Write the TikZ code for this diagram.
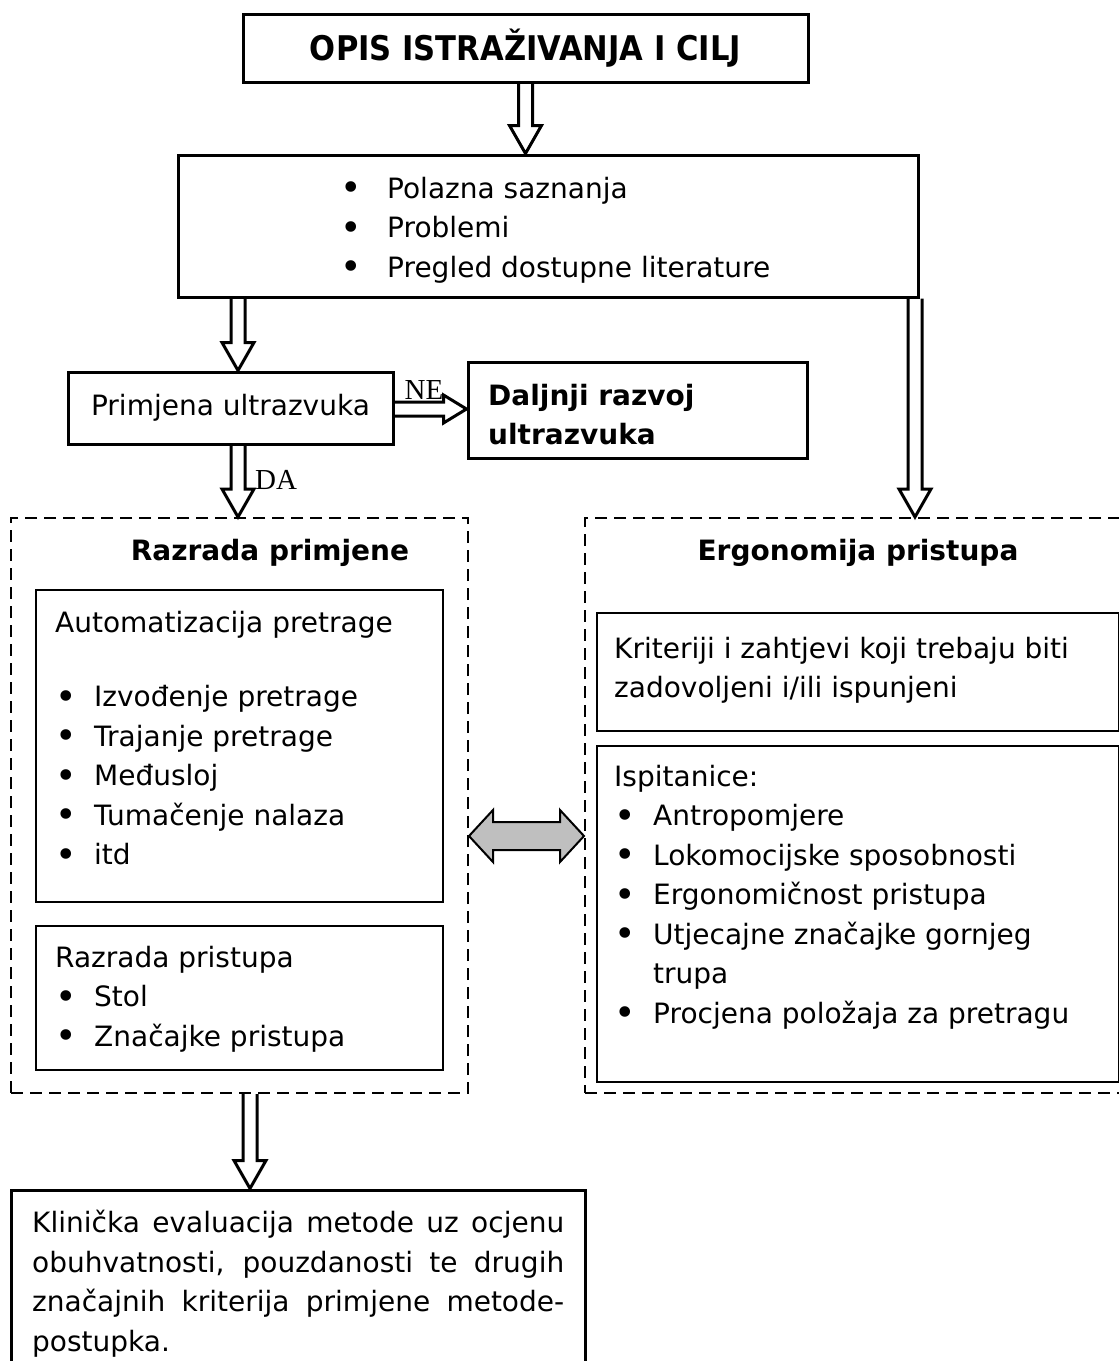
\documentclass[tikz,border=0pt]{standalone}
\usepackage{fontspec}
\setmainfont{DejaVu Sans}
\newfontfamily\timesfont{Liberation Serif}
\usetikzlibrary{calc}

\newcommand{\fs}{\fontsize{28}{39.5}\selectfont}
\newcommand{\bul}[2][39pt]{\makebox[#1][l]{\raisebox{-2.5pt}{\scalebox{1.3}{•}}}#2}
\newcommand{\hollowdown}[2]{%
  \draw[hollow] let \p1=(#1), \p2=(#2) in
    (\x1-7pt,\y1) -- (\x1-7pt,\y2+28pt) -- (\x1-16pt,\y2+28pt) -- (\x1,\y2)
    -- (\x1+16pt,\y2+28pt) -- (\x1+7pt,\y2+28pt) -- (\x1+7pt,\y1);}
\newcommand{\hollowright}[2]{%
  \draw[hollow] let \p1=(#1), \p2=(#2) in
    (\x1,\y1+7pt) -- (\x2-23pt,\y1+7pt) -- (\x2-23pt,\y1+14pt) -- (\x2,\y1)
    -- (\x2-23pt,\y1-14pt) -- (\x2-23pt,\y1-7pt) -- (\x1,\y1-7pt);}

\tikzset{
  thickbox/.style={draw, line width=3pt, inner sep=0pt},
  thinbox/.style={draw, line width=2pt, inner sep=0pt},
  dashbox/.style={draw, line width=2pt, dash pattern=on 12pt off 7pt, inner sep=0pt},
  txt/.style={inner sep=0pt, align=left, anchor=north west, font=\fs},
  hollow/.style={draw, line width=3pt, line join=miter},
  twoway/.style={draw, line width=2pt, fill=black!25, line join=miter},
  yesno/.style={inner sep=0pt, font=\timesfont\fontsize{29}{29}\selectfont},
}

\begin{document}
\begin{tikzpicture}[x=1pt, y=-1pt]
    \useasboundingbox (0,0) rectangle (1119,1361);
    \fill[white] (0,0) rectangle (1119,1361);
    \clip (0,0) rectangle (1119,1361);

    %top
    \node[thickbox, minimum width=565pt, minimum height=68pt,
          font=\fontsize{34}{40}\selectfont\bfseries] (opis) at (525.5,48)
        {\scalebox{0.9}[1]{OPIS ISTRAŽIVANJA I CILJ}};
    \node[thickbox, minimum width=740pt, minimum height=142pt] (uvod) at (548,226) {};
    \node[txt] (uvodtxt) at (340,177)
        {\bul[47pt]{Polazna saznanja}\\ \bul[47pt]{Problemi}\\ \bul[47pt]{Pregled dostupne literature}};

    %decision
    \node[thickbox, minimum width=325pt, minimum height=72pt, font=\fs] (primjena) at (230.5,408)
        {Primjena ultrazvuka};
    \node[thickbox, minimum width=339pt, minimum height=96pt] (daljnji) at (637.5,410) {};
    \node[txt, font=\fs\bfseries] (daljnjitxt) at (488,384) {Daljnji razvoj\\ultrazvuka};
    \node[yesno, anchor=base] (ne) at (424,399) {NE};
    \node[yesno, anchor=base west] (da) at (255,489) {DA};

    %left block
    \node[dashbox, minimum width=457pt, minimum height=575pt] (razrada) at (239.5,805.5) {};
    \node[inner sep=0pt, font=\fs\bfseries] (razradanaslov) at (270,553) {Razrada primjene};
    \node[thinbox, minimum width=407pt, minimum height=312pt] (auto) at (239.5,746) {};
    \node[txt] (autotxt) at (55,611)
        {Automatizacija pretrage\\[35pt] \bul{Izvođenje pretrage}\\ \bul{Trajanje pretrage}\\
         \bul{Međusloj}\\ \bul{Tumačenje nalaza}\\ \bul{itd}};
    \node[thinbox, minimum width=407pt, minimum height=144pt] (pristup) at (239.5,998) {};
    \node[txt] (pristuptxt) at (55,946)
        {Razrada pristupa\\ \bul{Stol}\\ \bul{Značajke pristupa}};

    %right block
    \node[dashbox, minimum width=550pt, minimum height=575pt] (ergo) at (860,805.5) {};
    \node[inner sep=0pt, font=\fs\bfseries] (ergonaslov) at (858,553) {Ergonomija pristupa};
    \node[thinbox, minimum width=522pt, minimum height=118pt] (krit) at (858,672) {};
    \node[txt] (krittxt) at (614,637)
        {Kriteriji i zahtjevi koji trebaju biti\\ zadovoljeni i/ili ispunjeni};
    \node[thinbox, minimum width=522pt, minimum height=336pt] (ispit) at (858,914) {};
    \node[txt] (ispittxt) at (614,765)
        {Ispitanice:\\ \bul{Antropomjere}\\ \bul{Lokomocijske sposobnosti}\\ \bul{Ergonomičnost pristupa}\\
         \bul{Utjecajne značajke gornjeg}\\ \makebox[39pt]{}trupa\\ \bul{Procjena položaja za pretragu}};

    %bottom
    \node[thickbox, minimum width=574pt, minimum height=200pt] (klin) at (298,1290) {};
    \node[txt] (klintxt) at (32,1210)
        {\makebox[532pt][s]{Klinička evaluacija metode uz ocjenu}\\
         \makebox[532pt][s]{obuhvatnosti, pouzdanosti te drugih}\\
         \makebox[532pt][s]{značajnih kriterija primjene metode-}\\
         postupka.};

    % arrows
    \coordinate (lx) at (238,0);
    \coordinate (rx) at (915,0);
    \coordinate (bx) at (250,0);
    \coordinate (ney) at (0,409);
    \coordinate (midy) at (0,836);
    \hollowdown{opis.south}{uvod.north -| opis.south}
    \hollowdown{uvod.south -| lx}{primjena.north -| lx}
    \hollowdown{primjena.south -| lx}{razrada.north -| lx}
    \hollowdown{uvod.south -| rx}{ergo.north -| rx}
    \hollowdown{razrada.south -| bx}{klin.north -| bx}
    \hollowright{primjena.east |- ney}{daljnji.west |- ney}
    \draw[twoway] let \p1=(razrada.east |- midy), \p2=(ergo.west |- midy) in
        (\x1,\y1) -- (\x1+24pt,\y1+26pt) -- (\x1+24pt,\y1+14pt) -- (\x2-24pt,\y1+14pt)
        -- (\x2-24pt,\y1+26pt) -- (\x2,\y1) -- (\x2-24pt,\y1-26pt) -- (\x2-24pt,\y1-14pt)
        -- (\x1+24pt,\y1-14pt) -- (\x1+24pt,\y1-26pt) -- cycle;
\end{tikzpicture}
\end{document}
